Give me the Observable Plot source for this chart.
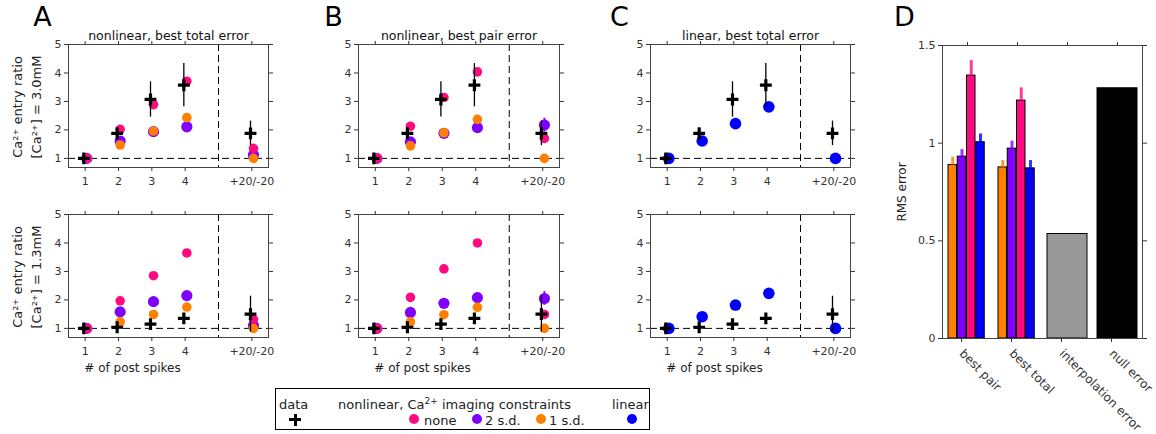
<!DOCTYPE html>
<html><head><meta charset="utf-8">
<script src="https://cdn.jsdelivr.net/npm/d3@7"></script>
<script src="https://cdn.jsdelivr.net/npm/@observablehq/plot@0.6"></script>
<style>
body{margin:0;background:#fff;font-family:"DejaVu Sans",sans-serif;}
#fig{position:relative;width:1156px;height:434px;overflow:hidden;background:#fff;}
#fig svg{position:absolute;overflow:visible;}
.legend{position:absolute;left:275px;top:388px;width:375px;height:42px;border:1px solid #000;box-sizing:border-box;font-size:13px;color:#222;}
.legend .t{position:absolute;white-space:nowrap;line-height:13px;}
.legend .c{position:absolute;width:10px;height:10px;border-radius:50%;}
.legend .bar{position:absolute;background:#000;}
.legend sup{font-size:9px;line-height:0;}
</style></head><body><div id="fig"></div>
<script>
// ---------- shared ----------
const spikeTicks = [1, 2, 3, 4, 6];
const spikeTickLabels = ["1", "2", "3", "4", "+20/-20"];
const colNone = "#ff0a80", col2sd = "#8000ff", col1sd = "#ff8000", colLinear = "#0000ff";

// ---------- experimental data ----------
const dataHigh = [1.0, 1.88, 3.07, 3.57, 1.88];
const dataHighErr = [0, 0.2, 0.62, 0.76, 0.43];
const dataLow = [1.0, 1.04, 1.15, 1.35, 1.5];
const dataLowErr = [0, 0, 0, 0, 0.63];

// ---------- A: nonlinear, best total error ----------
const aHighNone = [1.0, 2.02, 2.89, 3.71, 1.35];
const aHigh2sd = [1.0, 1.61, 1.94, 2.11, 1.12];
const aHigh1sd = [1.0, 1.47, 1.96, 2.43, 1.0];
const aLowNone = [1.0, 1.97, 2.85, 3.65, 1.32];
const aLow2sd = [1.0, 1.58, 1.94, 2.15, 1.09];
const aLow1sd = [1.0, 1.23, 1.49, 1.75, 1.0];

// ---------- B: nonlinear, best pair error ----------
const bHighNone = [1.0, 2.13, 3.14, 4.04, 1.70];
const bHigh2sd = [1.0, 1.58, 1.88, 2.08, 2.17];
const bHigh1sd = [1.0, 1.44, 1.90, 2.37, 1.0];
const bLowNone = [1.0, 2.09, 3.09, 4.0, 1.49];
const bLow2sd = [1.0, 1.56, 1.88, 2.08, 2.05];
const bLow1sd = [1.0, 1.23, 1.48, 1.74, 1.0];
const b2sdErr = [0, 0, 0, 0, 0.24];

// ---------- C: linear, best total error ----------
const cHighLinear = [1.0, 1.61, 2.22, 2.81, 1.0];
const cLowLinear = [1.0, 1.41, 1.82, 2.23, 1.0];

// ---------- D: RMS error ----------
const rmsGroups = ["best pair", "best total", "interpolation error", "null error"];
const rmsSeriesColors = [col1sd, col2sd, colNone, colLinear];
const rmsBestPair = [0.888, 0.931, 1.346, 1.005];
const rmsBestPairErr = [0.04, 0.036, 0.077, 0.042];
const rmsBestTotal = [0.876, 0.972, 1.218, 0.871];
const rmsBestTotalErr = [0.035, 0.038, 0.065, 0.04];
const rmsInterpolation = 0.535;
const rmsNull = 1.281;

const fig = document.getElementById("fig");
const FONT = "DejaVu Sans";

function pts(arr, dx, err) {
  return spikeTicks.map((x, i) => ({x: x + dx, y: arr[i], e: err ? err[i] : 0}));
}

function scatterPanel(o) {
  const marks = [
    Plot.ruleY([1], {stroke: "#000", strokeDasharray: "7,4", strokeWidth: 1}),
    Plot.ruleX([5], {stroke: "#000", strokeDasharray: "7,4", strokeWidth: 1}),
    Plot.frame({stroke: "#444"}),
    Plot.axisX({anchor: "bottom", ticks: spikeTicks, tickFormat: d => spikeTickLabels[spikeTicks.indexOf(d)], tickSize: 4, tickPadding: 6, label: null}),
    Plot.axisX({anchor: "top", ticks: spikeTicks, tickFormat: () => "", tickSize: 4, label: null}),
    Plot.axisY({anchor: "left", ticks: [1, 2, 3, 4, 5], tickFormat: d => String(d), tickSize: 4, tickPadding: 3, label: null}),
    Plot.axisY({anchor: "right", ticks: [1, 2, 3, 4, 5], tickFormat: () => "", tickSize: 4, label: null})
  ];
  for (const m of o.models) {
    if (m.err) marks.push(Plot.ruleX(pts(m.values, 0.05, m.err).filter(d => d.e > 0), {x: "x", y1: d => d.y - d.e, y2: d => d.y + d.e, stroke: m.color, strokeWidth: 2}));
    marks.push(Plot.dot(pts(m.values, 0.05), {x: "x", y: "y", r: m.r, fill: m.color, stroke: "none"}));
  }
  marks.push(Plot.ruleX(pts(o.data, -0.04, o.err).filter(d => d.e > 0), {x: "x", y1: d => d.y - d.e, y2: d => d.y + d.e, stroke: "#000", strokeWidth: 1.3}));
  marks.push(Plot.dot(pts(o.data, -0.04), {x: "x", y: "y", symbol: "plus", r: 3.9, stroke: "#000", strokeWidth: 3.2}));
  if (o.title) marks.push(Plot.text([o.title], {text: d => d, frameAnchor: "top", lineAnchor: "middle", textAnchor: "middle", dy: -9, fontSize: 12.5, fill: "#111"}));
  if (o.letter) marks.push(Plot.text([o.letter], {text: d => d, frameAnchor: "top-left", textAnchor: "middle", lineAnchor: "middle", dx: o.letterDx, dy: -27, fontSize: 27, fill: "#000"}));
  if (o.yLabel) {
    marks.push(Plot.text([o.yLabel[0]], {text: d => d, frameAnchor: "left", textAnchor: "middle", lineAnchor: "middle", rotate: -90, dx: -51, dy: 1, fontSize: 13, fill: "#222"}));
    marks.push(Plot.text([o.yLabel[1]], {text: d => d, frameAnchor: "left", textAnchor: "middle", lineAnchor: "middle", rotate: -90, dx: -32, dy: 1, fontSize: 13, fill: "#222"}));
  }
  if (o.xLabel) marks.push(Plot.text([o.xLabel], {text: d => d, frameAnchor: "bottom-left", textAnchor: "middle", lineAnchor: "middle", dx: 64, dy: 31, fontSize: 12, fill: "#222"}));
  const svg = Plot.plot({
    width: 290, height: 215,
    marginLeft: 68, marginRight: 290 - 68 - o.frameW, marginTop: 44, marginBottom: 48,
    x: {domain: [0.5, 6.5]},
    y: {domain: [0.68, 5]},
    style: {background: "transparent", fontFamily: FONT, fontSize: "11px", color: "#333", overflow: "visible"},
    marks
  });
  svg.style.left = o.left + "px";
  svg.style.top = o.top + "px";
  fig.appendChild(svg);
}

const hiLabel = ["Ca²⁺ entry ratio", "[Ca²⁺] = 3.0mM"];
const loLabel = ["Ca²⁺ entry ratio", "[Ca²⁺] = 1.3mM"];
const nl = (none, sd2, sd1, err2) => [
  {values: sd2, color: col2sd, r: 5.6, err: err2},
  {values: sd1, color: col1sd, r: 4.8},
  {values: none, color: colNone, r: 4.8}
];

scatterPanel({left: 0, top: 0, frameW: 200, title: "nonlinear, best total error", letter: "A", letterDx: -26, yLabel: hiLabel,
  data: dataHigh, err: dataHighErr, models: nl(aHighNone, aHigh2sd, aHigh1sd)});
scatterPanel({left: 0, top: 170, frameW: 200, yLabel: loLabel, xLabel: "# of post spikes",
  data: dataLow, err: dataLowErr, models: nl(aLowNone, aLow2sd, aLow1sd)});
scatterPanel({left: 290, top: 0, frameW: 201, title: "nonlinear, best pair error", letter: "B", letterDx: -25,
  data: dataHigh, err: dataHighErr, models: nl(bHighNone, bHigh2sd, bHigh1sd, b2sdErr)});
scatterPanel({left: 290, top: 170, frameW: 201, xLabel: "# of post spikes",
  data: dataLow, err: dataLowErr, models: nl(bLowNone, bLow2sd, bLow1sd, b2sdErr)});
scatterPanel({left: 582, top: 0, frameW: 200, title: "linear, best total error", letter: "C", letterDx: -31,
  data: dataHigh, err: dataHighErr, models: [{values: cHighLinear, color: colLinear, r: 5.8}]});
scatterPanel({left: 582, top: 170, frameW: 200, xLabel: "# of post spikes",
  data: dataLow, err: dataLowErr, models: [{values: cLowLinear, color: colLinear, r: 5.8}]});

// ---------- panel D ----------
const barW = 0.17, barStep = 0.185, barStart = -0.38;
const bars = [];
[rmsBestPair, rmsBestTotal].forEach((vals, g) => {
  const errs = g === 0 ? rmsBestPairErr : rmsBestTotalErr;
  vals.forEach((v, i) => {
    const x1 = g + 1 + barStart + i * barStep;
    bars.push({x1, x2: x1 + barW, v, e: errs[i], color: rmsSeriesColors[i]});
  });
});
bars.push({x1: 3 - 0.4, x2: 3 + 0.4, v: rmsInterpolation, e: 0, color: "#999999"});
bars.push({x1: 4 - 0.4, x2: 4 + 0.4, v: rmsNull, e: 0, color: "#000000"});

const svgD = Plot.plot({
  width: 276, height: 434,
  marginLeft: 62, marginRight: 14, marginTop: 45, marginBottom: 96,
  x: {domain: [0.5, 4.5]},
  y: {domain: [0, 1.5]},
  color: {type: "identity"},
  style: {background: "transparent", fontFamily: FONT, fontSize: "11px", color: "#333", overflow: "visible"},
  marks: [
    Plot.rectY(bars, {x1: "x1", x2: "x2", y1: 0, y2: "v", fill: "color", stroke: "#000", strokeWidth: 1}),
    Plot.ruleX(bars.filter(d => d.e > 0), {x: d => (d.x1 + d.x2) / 2, y1: "v", y2: d => d.v + d.e, stroke: "color", strokeWidth: 3, strokeOpacity: 0.8}),
    Plot.frame({stroke: "#444"}),
    Plot.axisX({anchor: "bottom", ticks: [1, 2, 3, 4], tickFormat: d => rmsGroups[d - 1], tickRotate: 45, tickSize: 4, tickPadding: 9, dx: -6, fontSize: 12, label: null}),
    Plot.axisX({anchor: "top", ticks: [1, 2, 3, 4], tickFormat: () => "", tickSize: 4, label: null}),
    Plot.axisY({anchor: "left", ticks: [0, 0.5, 1, 1.5], tickFormat: d => String(d), tickSize: 4, tickPadding: 3, label: null}),
    Plot.axisY({anchor: "right", ticks: [0, 0.5, 1, 1.5], tickFormat: () => "", tickSize: 4, label: null}),
    Plot.text(["RMS error"], {text: d => d, frameAnchor: "left", textAnchor: "middle", lineAnchor: "middle", rotate: -90, dx: -40, fontSize: 12, fill: "#222"}),
    Plot.text(["D"], {text: d => d, frameAnchor: "top-left", textAnchor: "middle", lineAnchor: "middle", dx: -38, dy: -28, fontSize: 27, fill: "#000"})
  ]
});
svgD.style.left = "880px";
svgD.style.top = "0px";
fig.appendChild(svgD);

// ---------- legend ----------
const legendItems = [
  {text: "data", x: 3, y: 9},
  {html: "nonlinear, Ca<sup>2+</sup> imaging constraints", x: 62, y: 9},
  {text: "linear", x: 336, y: 9},
  {text: "none", x: 148, y: 25},
  {text: "2 s.d.", x: 209, y: 25},
  {text: "1 s.d.", x: 273, y: 25}
];
const legendDots = [
  {color: colNone, x: 138}, {color: col2sd, x: 201}, {color: col1sd, x: 265}, {color: colLinear, x: 356}
];
const lg = document.createElement("div");
lg.className = "legend";
for (const it of legendItems) {
  const s = document.createElement("span");
  s.className = "t";
  s.style.left = it.x + "px"; s.style.top = it.y + "px";
  if (it.html) s.innerHTML = it.html; else s.textContent = it.text;
  lg.appendChild(s);
}
for (const d of legendDots) {
  const c = document.createElement("span");
  c.className = "c";
  c.style.background = d.color;
  c.style.left = (d.x - 5) + "px"; c.style.top = (30 - 5) + "px";
  lg.appendChild(c);
}
// data marker (plus) in legend
const hBar = document.createElement("span");
hBar.className = "bar";
hBar.style.cssText = "left:13px;top:29px;width:12px;height:3px;";
const vBar = document.createElement("span");
vBar.className = "bar";
vBar.style.cssText = "left:17.5px;top:24.5px;width:3px;height:12px;";
lg.appendChild(hBar); lg.appendChild(vBar);
fig.appendChild(lg);
</script></body></html>
